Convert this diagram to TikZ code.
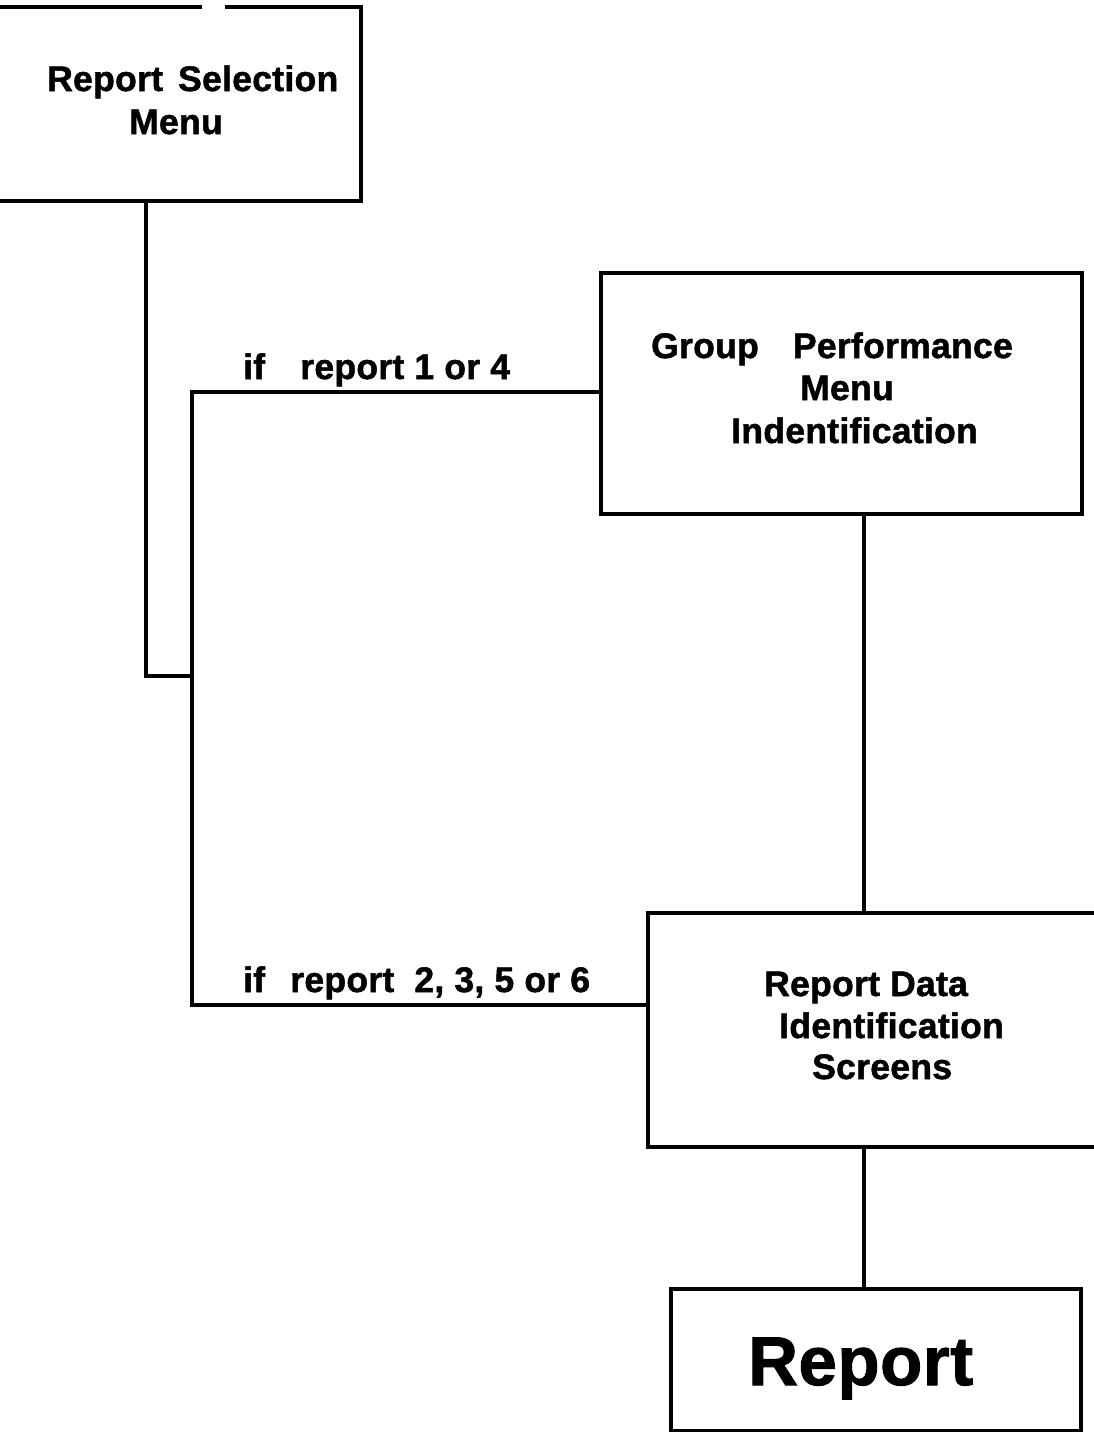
\documentclass[tikz,border=0pt]{standalone}
\usepackage{fontspec}
\setmainfont{Liberation Sans}[BoldFeatures={FakeBold=1.4,LetterSpace=0.8}]
\begin{document}
\begin{tikzpicture}[x=1pt,y=-1pt,
  wire/.style={line width=3.5pt, line join=miter},
  frame/.style={rectangle, line width=3.5pt, anchor=north west, inner sep=0pt, outer sep=0pt},
  boxtext/.style={font=\fontsize{35.5}{42}\selectfont\bfseries, anchor=base west, inner sep=0pt},
  cond/.style={font=\fontsize{35.5}{42}\selectfont\bfseries, anchor=base west, inner sep=0pt},
  bigtext/.style={font=\fontsize{69}{80}\selectfont\bfseries, anchor=base west, inner sep=0pt}]
\useasboundingbox (0,0) rectangle (1094,1432);
\clip (0,0) rectangle (1094,1432);
\fill[white] (0,0) rectangle (1094,1432);

% boxes
\node[frame, minimum width=430pt, minimum height=194pt] (sel) at (-69,7) {};
\node[frame, draw, minimum width=481pt, minimum height=241pt] (grp) at (601,273) {};
\node[frame, draw, minimum width=500pt, minimum height=234pt] (data) at (648,913) {};
\node[frame, draw, minimum width=410pt, minimum height=142pt] (rep) at (671,1289) {};

% outline of the selection menu box (left side runs off the sheet)
\draw[wire] (sel.north west) -- (202,7);
\draw[wire] (225,7) -| (sel.south east) -- (sel.south west);

% box texts
\node[boxtext] (selA) at (47,91) {Report\hspace{5pt} Selection};
\node[boxtext] (selB) at (129,134) {Menu};

\node[boxtext] (grpA) at (651,358) {Group\hspace{24pt} Performance};
\node[boxtext] (grpB) at (800,400) {Menu};
\node[boxtext] (grpC) at (731,443) {Indentification};

\node[boxtext] (dataA) at (764,996) {Report Data};
\node[boxtext] (dataB) at (779,1038) {Identification};
\node[boxtext] (dataC) at (812,1079) {Screens};

\node[bigtext] (repA) at (748,1385) {Report};

% branch conditions
\node[cond] (c1) at (243,379) {if\hspace{25pt} report 1 or 4};
\node[cond] (c2) at (243,992) {if\hspace{15pt} report\hspace{10pt} 2, 3, 5 or 6};

% connectors
\coordinate (top) at (192,392);
\coordinate (bot) at (192,1005);
\coordinate (join) at (192,676);
\coordinate (spine) at (864,0);

\draw[wire] (sel.south) |- (join);
\draw[wire] (grp.west |- top) -- (top) -- (bot) -- (bot -| data.west);
\draw[wire] (grp.south -| spine) -- (data.north -| spine);
\draw[wire] (data.south -| spine) -- (rep.north -| spine);
\end{tikzpicture}
\end{document}
